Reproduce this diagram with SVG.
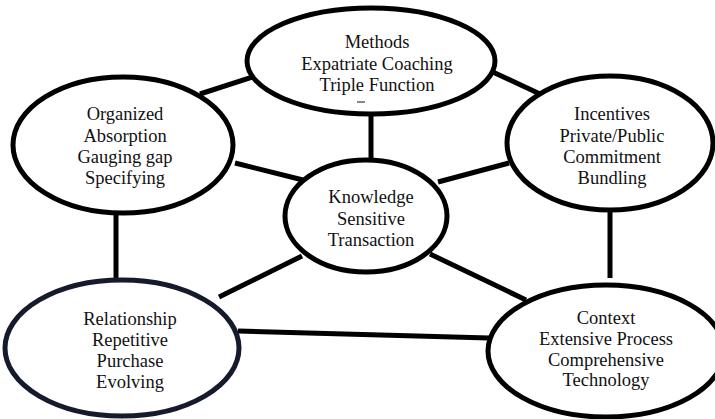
<svg xmlns="http://www.w3.org/2000/svg" width="715" height="419" viewBox="0 0 715 419">
<style>
.n{fill:#fff;stroke:#000;stroke-width:5}
.nv{stroke:#151a2c}
.c{stroke:#000;stroke-width:5;fill:none}
.t{font-size:18.5px;fill:#111;text-anchor:middle}
</style>
<rect width="715" height="419" fill="#fff"/>
<g id="connectors">
<line class="c" x1="200" y1="94" x2="262" y2="74"/>
<line class="c" x1="482" y1="67" x2="540" y2="94"/>
<line class="c" x1="371" y1="112" x2="371" y2="162"/>
<line class="c nv" x1="235" y1="163" x2="303" y2="180"/>
<line class="c" x1="438" y1="182" x2="509" y2="163"/>
<line class="c" x1="116" y1="210" x2="116" y2="280"/>
<line class="c" x1="610" y1="208" x2="610" y2="278"/>
<line class="c" x1="302" y1="256" x2="219" y2="297"/>
<line class="c" x1="430" y1="254" x2="526" y2="300"/>
<line class="c" x1="238" y1="331" x2="489" y2="338"/>
</g>
<g font-family="'Liberation Serif', 'Times New Roman', 'DejaVu Serif', serif">
<g id="methods">
<ellipse class="n" cx="371" cy="61" rx="124" ry="53"/>
<text class="t" x="377" y="48">Methods</text>
<text class="t" x="377" y="69.5">Expatriate Coaching</text>
<text class="t" x="377" y="91">Triple Function</text>
<line x1="357" y1="102" x2="365" y2="102" stroke="#111" stroke-width="1"/>
</g>
<g id="organized">
<ellipse class="n" cx="123" cy="145" rx="110" ry="68"/>
<text class="t" x="125" y="120">Organized</text>
<text class="t" x="125" y="141.5">Absorption</text>
<text class="t" x="125" y="163">Gauging gap</text>
<text class="t" x="125" y="184">Specifying</text>
</g>
<g id="incentives">
<ellipse class="n" cx="610" cy="143" rx="103" ry="67"/>
<text class="t" x="612" y="120">Incentives</text>
<text class="t" x="612" y="141.5">Private/Public</text>
<text class="t" x="612" y="163">Commitment</text>
<text class="t" x="612" y="184">Bundling</text>
</g>
<g id="knowledge">
<ellipse class="n" cx="366" cy="216" rx="81" ry="56"/>
<text class="t" x="371" y="203">Knowledge</text>
<text class="t" x="371" y="224.5">Sensitive</text>
<text class="t" x="371" y="246">Transaction</text>
</g>
<g id="relationship">
<ellipse class="n nv" cx="122" cy="348" rx="117" ry="68"/>
<text class="t" x="130" y="325">Relationship</text>
<text class="t" x="130" y="346">Repetitive</text>
<text class="t" x="130" y="367">Purchase</text>
<text class="t" x="130" y="388">Evolving</text>
</g>
<g id="context">
<ellipse class="n" cx="606" cy="351" rx="118" ry="66"/>
<text class="t" x="606" y="324">Context</text>
<text class="t" x="606" y="345">Extensive Process</text>
<text class="t" x="606" y="366">Comprehensive</text>
<text class="t" x="606" y="386">Technology</text>
</g>
</g>
</svg>
